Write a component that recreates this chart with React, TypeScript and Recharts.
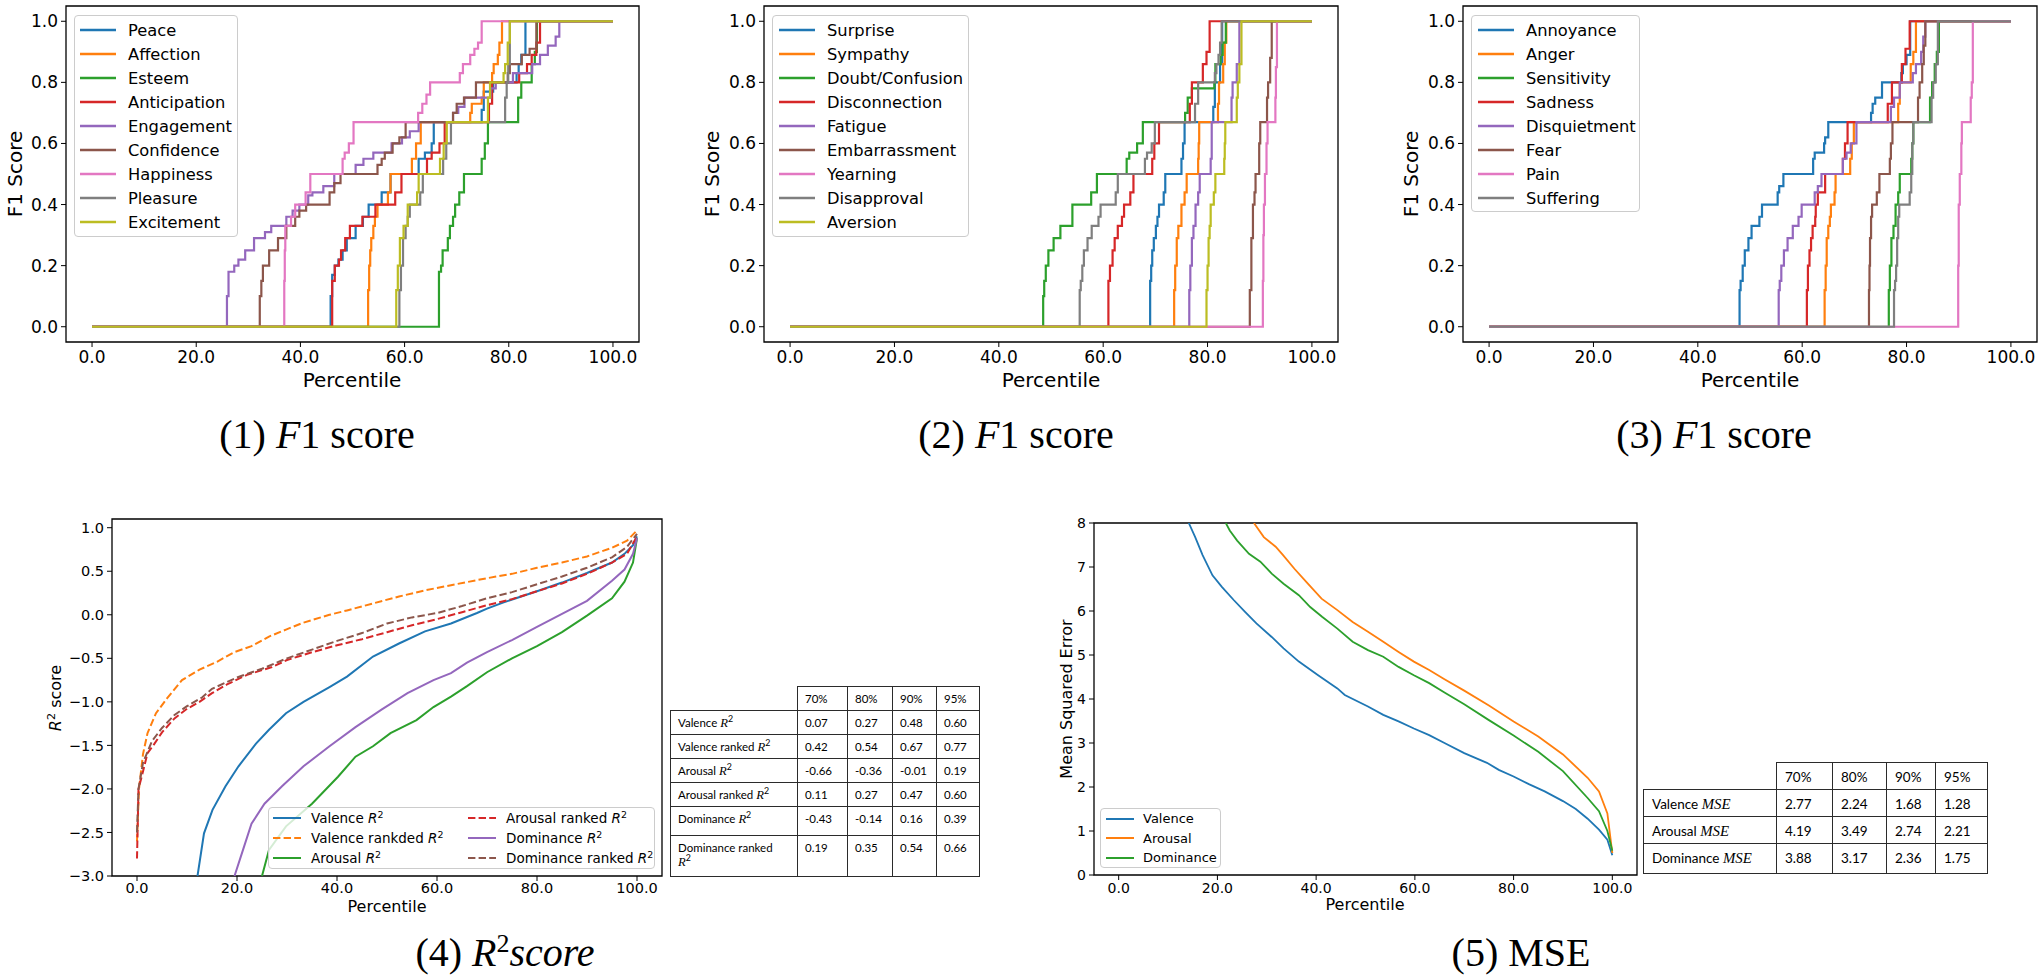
import React from 'react';
import { LineChart, Line, XAxis, YAxis, ReferenceArea } from 'recharts';

type Pt = [number, number];

// shared ticks
const PCT_TICKS = [0, 20, 40, 60, 80, 100];
const F1_TICKS = [0, 0.2, 0.4, 0.6, 0.8, 1.0];
const R2_TICKS = [-3, -2.5, -2, -1.5, -1, -0.5, 0, 0.5, 1];
const MSE_TICKS = [0, 1, 2, 3, 4, 5, 6, 7, 8];

// matplotlib tab10
const BLUE = '#1f77b4';
const ORANGE = '#ff7f0e';
const GREEN = '#2ca02c';
const RED = '#d62728';
const PURPLE = '#9467bd';
const BROWN = '#8c564b';
const PINK = '#e377c2';
const GRAY = '#7f7f7f';
const OLIVE = '#bcbd22';

// ---- panel 1 : [percentile, F1] (value changes at that percentile)
const peace: Pt[] = [[0, 0], [45.8, 0.1], [46.1, 0.17], [46.6, 0.2], [47.3, 0.22], [48.1, 0.25], [48.9, 0.29], [50.6, 0.33], [52, 0.36], [53.1, 0.4], [55.6, 0.44], [57.3, 0.5], [62.7, 0.55], [63.9, 0.57], [65.2, 0.6], [65.6, 0.67], [74.8, 0.71], [75.2, 0.77], [77, 0.8], [81.5, 0.83], [81.9, 0.86], [82.4, 0.89], [83.2, 1], [100, 1]];
const affection: Pt[] = [[0, 0], [53, 0.12], [53.2, 0.2], [53.4, 0.25], [53.6, 0.29], [54, 0.33], [54.3, 0.36], [54.8, 0.4], [56.8, 0.44], [57.3, 0.5], [61.4, 0.55], [62.2, 0.6], [63.1, 0.67], [72.6, 0.7], [72.9, 0.73], [74.8, 0.75], [75.2, 0.8], [76.8, 0.83], [77.1, 0.86], [77.9, 0.89], [78.2, 0.93], [78.7, 1], [100, 1]];
const esteem: Pt[] = [[0, 0], [66.6, 0.18], [67, 0.2], [67.3, 0.25], [68.3, 0.29], [68.7, 0.33], [69.3, 0.36], [69.7, 0.4], [70.5, 0.44], [71.4, 0.5], [74.8, 0.55], [75.4, 0.6], [76, 0.67], [81.8, 0.75], [82.4, 0.8], [84.4, 0.86], [85, 0.9], [85.4, 1], [100, 1]];
const anticipation: Pt[] = [[0, 0], [46.1, 0.15], [46.6, 0.2], [47.4, 0.22], [47.8, 0.25], [48.6, 0.29], [49.5, 0.33], [51.9, 0.36], [54.4, 0.4], [58.2, 0.44], [59.4, 0.5], [64.3, 0.55], [65.2, 0.57], [66.7, 0.6], [67.7, 0.67], [76.2, 0.73], [76.8, 0.8], [82, 0.83], [83.5, 0.86], [84.4, 0.89], [85.3, 0.93], [86, 1], [100, 1]];
const engagement: Pt[] = [[0, 0], [25.9, 0.1], [26.2, 0.18], [27.3, 0.2], [28.1, 0.22], [29.4, 0.25], [31.1, 0.29], [33.2, 0.31], [34.4, 0.33], [37.3, 0.36], [38.5, 0.38], [39.8, 0.4], [41.5, 0.43], [42.3, 0.44], [44.4, 0.46], [46.5, 0.5], [50.6, 0.53], [52.1, 0.55], [54, 0.57], [57.5, 0.6], [59.5, 0.62], [61, 0.64], [62.7, 0.67], [69.3, 0.7], [70.3, 0.72], [71.5, 0.75], [76.5, 0.78], [77.5, 0.8], [80.8, 0.83], [84.5, 0.86], [86, 0.89], [87.5, 0.92], [89, 0.95], [89.7, 1], [100, 1]];
const confidence: Pt[] = [[0, 0], [32.2, 0.1], [32.5, 0.15], [32.8, 0.2], [34, 0.25], [35.7, 0.29], [37.3, 0.33], [39, 0.36], [39.8, 0.38], [41.1, 0.4], [45.6, 0.44], [46.5, 0.47], [47.7, 0.5], [54.8, 0.53], [55.6, 0.55], [56.2, 0.57], [57.7, 0.6], [59, 0.62], [60.2, 0.67], [69.3, 0.7], [70, 0.73], [71.4, 0.75], [73.7, 0.8], [79.8, 0.83], [80.2, 0.86], [82.5, 0.89], [84, 0.91], [85.3, 1], [100, 1]];
const happiness: Pt[] = [[0, 0], [36.9, 0.15], [37, 0.25], [37.1, 0.33], [38.2, 0.36], [39, 0.4], [41, 0.44], [41.9, 0.5], [48.1, 0.55], [48.5, 0.57], [49.3, 0.6], [50.2, 0.67], [62.6, 0.7], [63.4, 0.73], [64.2, 0.76], [64.9, 0.8], [70.6, 0.83], [71.2, 0.86], [72.6, 0.89], [73.4, 0.91], [74.1, 0.93], [74.8, 1], [100, 1]];
const pleasure: Pt[] = [[0, 0], [59, 0.12], [59.3, 0.2], [59.7, 0.29], [60.2, 0.33], [60.6, 0.36], [61, 0.4], [63, 0.44], [63.5, 0.5], [67.4, 0.55], [68, 0.6], [68.9, 0.67], [79.3, 0.75], [79.6, 0.8], [79.9, 0.86], [80.2, 1], [100, 1]];
const excitement: Pt[] = [[0, 0], [58.4, 0.12], [58.7, 0.2], [59.1, 0.29], [59.8, 0.33], [60.6, 0.4], [62.4, 0.44], [62.7, 0.5], [66.8, 0.55], [67.5, 0.6], [68.1, 0.67], [76, 0.75], [76.4, 0.8], [79, 0.83], [79.3, 0.86], [79.8, 0.93], [80.2, 1], [100, 1]];

// ---- panel 2
const surprise: Pt[] = [[0, 0], [69, 0.15], [69.2, 0.2], [69.4, 0.25], [69.7, 0.29], [70.1, 0.33], [70.4, 0.36], [70.7, 0.4], [71.6, 0.44], [71.9, 0.5], [75, 0.55], [75.3, 0.6], [75.6, 0.67], [81.1, 0.72], [81.4, 0.8], [82.4, 0.86], [82.8, 1], [100, 1]];
const sympathy: Pt[] = [[0, 0], [73.6, 0.12], [73.8, 0.2], [74.1, 0.29], [74.4, 0.33], [75, 0.4], [75.6, 0.44], [76, 0.5], [78.2, 0.55], [78.3, 0.6], [78.4, 0.67], [82, 0.73], [82.2, 0.8], [83, 0.86], [83.3, 0.93], [83.6, 1], [100, 1]];
const doubt: Pt[] = [[0, 0], [48.5, 0.1], [48.7, 0.15], [49, 0.2], [49.5, 0.25], [50.5, 0.29], [51.8, 0.33], [54.1, 0.4], [57.7, 0.44], [58.8, 0.5], [64.5, 0.55], [65, 0.57], [66.5, 0.6], [67.6, 0.67], [75.7, 0.7], [76.2, 0.75], [77, 0.78], [81.3, 0.8], [81.5, 0.86], [82.5, 0.89], [82.9, 0.93], [83.5, 1], [100, 1]];
const disconnection: Pt[] = [[0, 0], [61, 0.15], [61.3, 0.2], [61.8, 0.25], [62.2, 0.29], [62.8, 0.33], [63.6, 0.36], [64, 0.4], [65.2, 0.44], [65.8, 0.5], [69.4, 0.55], [69.8, 0.6], [70.7, 0.67], [76.6, 0.73], [77, 0.8], [79.1, 0.86], [79.8, 0.9], [80.4, 1], [100, 1]];
const fatigue: Pt[] = [[0, 0], [76.5, 0.12], [76.7, 0.2], [77, 0.29], [77.3, 0.33], [77.7, 0.4], [78.2, 0.44], [78.5, 0.5], [80.6, 0.55], [80.8, 0.67], [84.6, 0.75], [84.8, 0.8], [85.6, 0.86], [86.1, 1], [100, 1]];
const embarrassment: Pt[] = [[0, 0], [88.1, 0.12], [88.4, 0.29], [88.7, 0.4], [89, 0.44], [89.2, 0.5], [89.9, 0.6], [90.1, 0.67], [91.4, 0.75], [91.6, 0.8], [92, 0.88], [92.3, 1], [100, 1]];
const yearning: Pt[] = [[0, 0], [90.6, 0.15], [90.7, 0.3], [90.8, 0.4], [91, 0.5], [91.3, 0.6], [91.5, 0.67], [93, 0.75], [93.1, 0.85], [93.3, 1], [100, 1]];
const disapproval: Pt[] = [[0, 0], [55.5, 0.12], [55.7, 0.15], [56, 0.2], [56.3, 0.25], [57, 0.29], [57.8, 0.33], [59.1, 0.36], [59.5, 0.4], [62.4, 0.44], [62.8, 0.5], [68, 0.55], [68.4, 0.57], [69.3, 0.6], [69.9, 0.67], [77.6, 0.73], [78.2, 0.8], [81.4, 0.83], [81.7, 0.86], [82.1, 0.89], [82.4, 0.93], [82.7, 1], [100, 1]];
const aversion: Pt[] = [[0, 0], [79.8, 0.12], [80, 0.2], [80.2, 0.29], [80.4, 0.33], [80.6, 0.4], [81.2, 0.44], [81.5, 0.5], [83.2, 0.55], [83.3, 0.6], [83.4, 0.67], [85.6, 0.75], [85.8, 0.8], [86.1, 0.86], [86.5, 1], [100, 1]];

// ---- panel 3
const annoyance: Pt[] = [[0, 0], [48, 0.12], [48.2, 0.15], [48.6, 0.2], [49, 0.25], [49.7, 0.29], [50.3, 0.33], [51.8, 0.36], [52.3, 0.4], [55.3, 0.44], [55.6, 0.46], [56.4, 0.5], [62.1, 0.55], [62.4, 0.57], [64.2, 0.6], [64.4, 0.62], [65, 0.67], [73.2, 0.7], [73.5, 0.73], [74, 0.75], [75.3, 0.8], [79, 0.83], [79.3, 0.86], [80, 0.89], [80.7, 1], [100, 1]];
const anger: Pt[] = [[0, 0], [64.3, 0.12], [64.5, 0.2], [64.7, 0.29], [65, 0.33], [65.3, 0.36], [65.5, 0.4], [66.2, 0.44], [66.4, 0.5], [69.2, 0.55], [69.5, 0.6], [69.9, 0.67], [78.4, 0.73], [78.7, 0.8], [80.8, 0.86], [81.3, 0.9], [81.8, 1], [100, 1]];
const sensitivity: Pt[] = [[0, 0], [76.6, 0.12], [76.8, 0.2], [77.1, 0.29], [77.5, 0.33], [77.9, 0.4], [78.4, 0.44], [78.7, 0.5], [80.9, 0.55], [81.1, 0.6], [81.3, 0.67], [84.5, 0.75], [84.9, 0.8], [85.4, 0.86], [85.8, 0.9], [86.2, 1], [100, 1]];
const sadness: Pt[] = [[0, 0], [60.9, 0.12], [61.1, 0.2], [61.4, 0.25], [61.7, 0.29], [62, 0.33], [62.5, 0.36], [62.6, 0.4], [63, 0.44], [64.4, 0.5], [67.8, 0.55], [68.2, 0.6], [68.7, 0.67], [76.4, 0.73], [77.2, 0.8], [79.1, 0.86], [79.8, 0.91], [80.6, 1], [100, 1]];
const disquietment: Pt[] = [[0, 0], [55.5, 0.12], [55.7, 0.15], [56, 0.2], [56.5, 0.25], [57.2, 0.29], [58.2, 0.33], [59.3, 0.36], [59.9, 0.4], [62.4, 0.44], [63, 0.46], [63.7, 0.5], [67.8, 0.55], [68.5, 0.57], [69.3, 0.6], [70.4, 0.67], [77, 0.72], [77.6, 0.75], [78.7, 0.8], [81.2, 0.83], [81.8, 0.86], [82.8, 0.9], [83.2, 0.95], [83.6, 1], [100, 1]];
const fear: Pt[] = [[0, 0], [72.8, 0.12], [72.9, 0.2], [73, 0.29], [73.2, 0.36], [73.4, 0.4], [74.3, 0.44], [74.8, 0.5], [76.8, 0.55], [77, 0.6], [77.3, 0.67], [82.2, 0.75], [82.5, 0.8], [83, 0.86], [83.3, 0.92], [83.6, 1], [100, 1]];
const pain: Pt[] = [[0, 0], [89.9, 0.2], [90, 0.4], [90.2, 0.5], [90.5, 0.6], [90.6, 0.67], [92.3, 0.75], [92.5, 0.8], [92.7, 1], [100, 1]];
const suffering: Pt[] = [[0, 0], [77.6, 0.12], [77.8, 0.15], [78, 0.2], [78.2, 0.29], [78.4, 0.36], [78.6, 0.4], [80.6, 0.44], [80.9, 0.5], [81.1, 0.6], [81.3, 0.67], [84.8, 0.75], [85.1, 0.8], [85.6, 0.86], [86, 1], [100, 1]];

// ---- panel 4 : [percentile, R2]
const valenceR2: Pt[] = [[12.1, -3], [13.4, -2.51], [15.1, -2.24], [17.7, -1.97], [20.3, -1.74], [23.8, -1.48], [26.4, -1.32], [29.8, -1.13], [33.3, -1.0], [38.5, -0.83], [42, -0.71], [47.2, -0.48], [52.4, -0.33], [57.6, -0.19], [62.8, -0.1], [68, 0.02], [70, 0.07], [73.2, 0.14], [80, 0.27], [85, 0.37], [90, 0.48], [95, 0.6], [97.5, 0.7], [99.2, 0.8], [100, 0.9]];
const valenceRankedR2: Pt[] = [[0, -2.6], [0.4, -2.0], [1.2, -1.6], [2.1, -1.36], [3.8, -1.13], [6, -0.96], [9, -0.75], [12.5, -0.63], [16, -0.54], [19.4, -0.43], [22.9, -0.36], [26.4, -0.25], [29.8, -0.17], [33.3, -0.09], [38.5, 0.0], [42, 0.05], [47.2, 0.13], [52.4, 0.21], [57.6, 0.28], [62.8, 0.34], [70, 0.42], [75, 0.47], [80, 0.54], [85, 0.6], [90, 0.67], [95, 0.77], [98, 0.85], [100, 0.97]];
const arousalR2: Pt[] = [[25, -3], [26.4, -2.7], [29.8, -2.43], [35, -2.17], [40.2, -1.86], [43.7, -1.63], [47.2, -1.51], [50.7, -1.36], [55.9, -1.21], [59.3, -1.06], [62.8, -0.94], [66, -0.82], [70, -0.66], [75, -0.5], [80, -0.36], [85, -0.2], [90, -0.01], [95, 0.19], [97.5, 0.38], [99.2, 0.6], [100, 0.88]];
const arousalRankedR2: Pt[] = [[0, -2.8], [0.3, -2.0], [1.2, -1.8], [2.1, -1.59], [3.5, -1.48], [5, -1.35], [7.5, -1.19], [10, -1.08], [12.5, -1.0], [15, -0.9], [18, -0.8], [22, -0.69], [27, -0.6], [30, -0.52], [35, -0.43], [40, -0.35], [45, -0.28], [50, -0.2], [55, -0.12], [60, -0.05], [65, 0.03], [70, 0.11], [75, 0.18], [80, 0.27], [85, 0.36], [90, 0.47], [95, 0.6], [98, 0.7], [100, 0.9]];
const dominanceR2: Pt[] = [[19.5, -3], [21.2, -2.7], [22.9, -2.4], [25.5, -2.17], [29, -1.97], [33.3, -1.74], [38.5, -1.51], [43.7, -1.29], [48.9, -1.09], [54.1, -0.9], [59.3, -0.75], [62.8, -0.67], [66, -0.55], [70, -0.43], [75, -0.29], [80, -0.14], [85, 0.01], [90, 0.16], [95, 0.39], [97.5, 0.52], [99.2, 0.7], [100, 0.88]];
const dominanceRankedR2: Pt[] = [[0, -2.5], [0.3, -2.0], [1.2, -1.7], [3, -1.45], [5, -1.3], [7.5, -1.15], [10, -1.05], [13, -0.95], [15, -0.85], [20, -0.72], [25, -0.62], [30, -0.5], [35, -0.4], [40, -0.3], [45, -0.21], [50, -0.1], [55, -0.03], [60, 0.02], [65, 0.1], [70, 0.19], [75, 0.26], [80, 0.35], [85, 0.44], [90, 0.54], [95, 0.66], [98, 0.78], [100, 0.93]];

// ---- panel 5 : [percentile, MSE]
const valenceMse: Pt[] = [[14.2, 8], [15.5, 7.68], [17, 7.27], [19, 6.81], [20.9, 6.55], [23.3, 6.25], [25.6, 5.98], [27.9, 5.72], [31, 5.41], [33.4, 5.15], [36.5, 4.85], [40.4, 4.54], [44.3, 4.24], [45.8, 4.09], [50.5, 3.83], [53.6, 3.64], [56.7, 3.49], [59.8, 3.33], [62.9, 3.18], [66, 3.0], [70, 2.77], [74.6, 2.55], [77, 2.39], [80, 2.24], [83.2, 2.06], [86.3, 1.9], [90, 1.68], [92.6, 1.5], [95, 1.28], [97.3, 1.03], [99, 0.8], [100, 0.45]];
const arousalMse: Pt[] = [[27.4, 8], [29.4, 7.68], [31.8, 7.46], [33.3, 7.27], [35.6, 6.96], [38, 6.66], [41.1, 6.28], [44.3, 6.02], [47.4, 5.75], [50.5, 5.53], [53.6, 5.3], [56.7, 5.07], [59.8, 4.85], [62.9, 4.66], [66, 4.45], [70, 4.19], [75, 3.85], [80, 3.49], [85, 3.15], [90, 2.74], [95, 2.21], [97.3, 1.9], [99, 1.4], [100, 0.5]];
const dominanceMse: Pt[] = [[21.7, 8], [22.5, 7.83], [24, 7.6], [26.4, 7.3], [28.7, 7.12], [31, 6.85], [33.4, 6.62], [36.5, 6.36], [38.8, 6.09], [41.2, 5.87], [44.3, 5.6], [47.4, 5.3], [50.5, 5.11], [53.6, 4.96], [56.7, 4.73], [59.8, 4.54], [62.9, 4.36], [66, 4.15], [70, 3.88], [75, 3.52], [80, 3.17], [85, 2.8], [90, 2.36], [95, 1.75], [97.3, 1.45], [99, 1.0], [100, 0.55]];

// ---- tables
const TABLE_COLS = ['70%', '80%', '90%', '95%'];
const R2_ROW_NAMES = ['Valence', 'Valence ranked', 'Arousal', 'Arousal ranked', 'Dominance', 'Dominance ranked'];
const R2_ROW_VALUES = [
  ['0.07', '0.27', '0.48', '0.60'],
  ['0.42', '0.54', '0.67', '0.77'],
  ['-0.66', '-0.36', '-0.01', '0.19'],
  ['0.11', '0.27', '0.47', '0.60'],
  ['-0.43', '-0.14', '0.16', '0.39'],
  ['0.19', '0.35', '0.54', '0.66'],
];
const MSE_ROW_NAMES = ['Valence', 'Arousal', 'Dominance'];
const MSE_ROW_VALUES = [
  ['2.77', '2.24', '1.68', '1.28'],
  ['4.19', '3.49', '2.74', '2.21'],
  ['3.88', '3.17', '2.36', '1.75'],
];

type Series = { name: string; color: string; points: Pt[]; dashed?: boolean };

const PANEL1: Series[] = [
  { name: 'Peace', color: BLUE, points: peace },
  { name: 'Affection', color: ORANGE, points: affection },
  { name: 'Esteem', color: GREEN, points: esteem },
  { name: 'Anticipation', color: RED, points: anticipation },
  { name: 'Engagement', color: PURPLE, points: engagement },
  { name: 'Confidence', color: BROWN, points: confidence },
  { name: 'Happiness', color: PINK, points: happiness },
  { name: 'Pleasure', color: GRAY, points: pleasure },
  { name: 'Excitement', color: OLIVE, points: excitement },
];
const PANEL2: Series[] = [
  { name: 'Surprise', color: BLUE, points: surprise },
  { name: 'Sympathy', color: ORANGE, points: sympathy },
  { name: 'Doubt/Confusion', color: GREEN, points: doubt },
  { name: 'Disconnection', color: RED, points: disconnection },
  { name: 'Fatigue', color: PURPLE, points: fatigue },
  { name: 'Embarrassment', color: BROWN, points: embarrassment },
  { name: 'Yearning', color: PINK, points: yearning },
  { name: 'Disapproval', color: GRAY, points: disapproval },
  { name: 'Aversion', color: OLIVE, points: aversion },
];
const PANEL3: Series[] = [
  { name: 'Annoyance', color: BLUE, points: annoyance },
  { name: 'Anger', color: ORANGE, points: anger },
  { name: 'Sensitivity', color: GREEN, points: sensitivity },
  { name: 'Sadness', color: RED, points: sadness },
  { name: 'Disquietment', color: PURPLE, points: disquietment },
  { name: 'Fear', color: BROWN, points: fear },
  { name: 'Pain', color: PINK, points: pain },
  { name: 'Suffering', color: GRAY, points: suffering },
];
const PANEL4: Series[] = [
  { name: 'Valence', color: BLUE, points: valenceR2 },
  { name: 'Valence rankded', color: ORANGE, points: valenceRankedR2, dashed: true },
  { name: 'Arousal', color: GREEN, points: arousalR2 },
  { name: 'Arousal ranked', color: RED, points: arousalRankedR2, dashed: true },
  { name: 'Dominance', color: PURPLE, points: dominanceR2 },
  { name: 'Dominance ranked', color: BROWN, points: dominanceRankedR2, dashed: true },
];
const PANEL5: Series[] = [
  { name: 'Valence', color: BLUE, points: valenceMse },
  { name: 'Arousal', color: ORANGE, points: arousalMse },
  { name: 'Dominance', color: GREEN, points: dominanceMse },
];

const SANS = "'DejaVu Sans', sans-serif";
const SERIF = "'Liberation Serif', 'DejaVu Serif', serif";
const TABLE_FONT = "Lato, 'Open Sans', sans-serif";
const DASH = '7.4 3.2';

const pctFmt = (v: number) => v.toFixed(1);
const f1Fmt = (v: number) => v.toFixed(1);
const r2Fmt = (v: number) => (v < 0 ? '\u2212' + Math.abs(v).toFixed(1) : v.toFixed(1));
const mseFmt = (v: number) => String(v);

const R2 = ({ serif }: { serif?: boolean }) => (
  <span style={{ whiteSpace: 'nowrap' }}>
    <span style={{ fontStyle: 'italic', fontFamily: serif ? SERIF : undefined }}>R</span>
    <span style={{ fontSize: '0.7em', verticalAlign: 'super', lineHeight: 0 }}>2</span>
  </span>
);

function Panel(props: {
  left: number; top: number; width: number; height: number;
  margin: { top: number; right: number; bottom: number; left: number };
  yWidth: number; xHeight: number; xTickMargin: number; fontSize: number;
  yDomain: [number, number]; yTicks: number[]; yFmt: (v: number) => string;
  series: Series[]; lineWidth: number; step?: boolean;
}) {
  const tick = { fill: '#000', fontSize: props.fontSize, fontFamily: SANS };
  return (
    <div style={{ position: 'absolute', left: props.left, top: props.top }}>
      <LineChart width={props.width} height={props.height} margin={props.margin}>
        <XAxis type="number" dataKey="x" domain={[-5, 105]} ticks={PCT_TICKS} tickFormatter={pctFmt}
          allowDataOverflow interval={0} axisLine={false} tickLine={{ stroke: '#000' }} tickSize={5}
          tickMargin={props.xTickMargin} height={props.xHeight} tick={tick} />
        <YAxis type="number" dataKey="y" domain={props.yDomain} ticks={props.yTicks} tickFormatter={props.yFmt}
          allowDataOverflow interval={0} axisLine={false} tickLine={{ stroke: '#000' }} tickSize={5}
          tickMargin={3} width={props.yWidth} tick={tick} />
        {props.series.map((s) => (
          <Line key={s.name} data={s.points.map(([x, y]) => ({ x, y }))} dataKey="y" name={s.name}
            type={props.step ? 'stepAfter' : 'linear'} stroke={s.color} strokeWidth={props.lineWidth}
            strokeDasharray={s.dashed ? DASH : undefined} dot={false} activeDot={false}
            isAnimationActive={false} />
        ))}
        <ReferenceArea x1={-5} x2={105} y1={props.yDomain[0]} y2={props.yDomain[1]} fill="none"
          stroke="#000" strokeWidth={1.3} ifOverflow="visible" />
      </LineChart>
    </div>
  );
}

function Legend(props: {
  left: number; top: number; width: number; height: number; padTop: number;
  rowH: number; fontSize: number; handleLeft: number; handleW: number; gap: number; lw: number;
  items: { label: React.ReactNode; color: string; dashed?: boolean }[]; rows?: number; colW?: number;
}) {
  const rows = props.rows ?? props.items.length;
  return (
    <div style={{
      position: 'absolute', left: props.left, top: props.top, width: props.width, height: props.height,
      boxSizing: 'border-box', border: '1px solid #cccccc', borderRadius: 4, background: 'rgba(255,255,255,0.8)',
      paddingTop: props.padTop, fontFamily: SANS, fontSize: props.fontSize, color: '#000',
      display: 'grid', gridTemplateRows: `repeat(${rows}, ${props.rowH}px)`, gridAutoFlow: 'column',
      gridAutoColumns: props.colW ? `${props.colW}px` : '1fr',
    }}>
      {props.items.map((it, i) => (
        <div key={i} style={{ display: 'flex', alignItems: 'center', height: props.rowH, whiteSpace: 'nowrap' }}>
          <svg width={props.handleW} height={8} style={{ marginLeft: props.handleLeft, flex: 'none' }}>
            <line x1={0} y1={4} x2={props.handleW} y2={4} stroke={it.color} strokeWidth={props.lw}
              strokeDasharray={it.dashed ? DASH : undefined} />
          </svg>
          <span style={{ marginLeft: props.gap }}>{it.label}</span>
        </div>
      ))}
    </div>
  );
}

const Txt = ({ x, y, size, rotate, family, children }: {
  x: number; y: number; size: number; rotate?: boolean; family?: string; children: React.ReactNode;
}) => (
  <div style={{
    position: 'absolute', left: x, top: y, fontSize: size, fontFamily: family ?? SANS, lineHeight: 1,
    whiteSpace: 'nowrap', color: '#000',
    transform: `translate(-50%, -50%)${rotate ? ' rotate(-90deg)' : ''}`,
  }}>{children}</div>
);

function StatTable(props: {
  left: number; top: number; colW: number[]; rowH: number[]; fontSize: number; lineH: number;
  pad: string; names: string[]; values: string[][]; unit: 'r2' | 'mse';
}) {
  const cell: React.CSSProperties = {
    border: '1.3px solid #2b2b2b', padding: props.pad, verticalAlign: 'top', textAlign: 'left',
    lineHeight: `${props.lineH}px`, fontWeight: 'normal',
  };
  const width = props.colW.reduce((a, b) => a + b, 0);
  const label = (n: string) =>
    props.unit === 'r2' ? (
      <>
        {n}
        {n.length > 15 ? <br /> : ' '}
        <span style={{ fontSize: '1.1em' }}><R2 serif /></span>
      </>
    ) : (
      <>
        {n} <span style={{ fontStyle: 'italic', fontFamily: SERIF, fontSize: '1.1em' }}>MSE</span>
      </>
    );
  return (
    <table style={{
      position: 'absolute', left: props.left, top: props.top, width, tableLayout: 'fixed',
      borderCollapse: 'collapse', fontFamily: TABLE_FONT, fontSize: props.fontSize, color: '#000',
    }}>
      <colgroup>{props.colW.map((w, i) => <col key={i} style={{ width: w }} />)}</colgroup>
      <tbody>
        <tr style={{ height: props.rowH[0] }}>
          <td style={{ ...cell, border: 'none' }} />
          {TABLE_COLS.map((c) => <td key={c} style={cell}>{c}</td>)}
        </tr>
        {props.names.map((n, r) => (
          <tr key={n} style={{ height: props.rowH[r + 1] }}>
            <td style={cell}>{label(n)}</td>
            {props.values[r].map((v, c) => <td key={c} style={cell}>{v}</td>)}
          </tr>
        ))}
      </tbody>
    </table>
  );
}

const f1Legend = (s: Series[]) => s.map((x) => ({ label: x.name, color: x.color }));

export default function App() {
  return (
    <div style={{ position: 'absolute', left: 0, top: 0, width: 2044, height: 980, background: '#fff', overflow: 'hidden' }}>
      {/* top row: F1 percentiles */}
      <Panel left={0} top={0} width={660} height={380} margin={{ top: 6, right: 21, bottom: 0, left: 0 }}
        yWidth={66} xHeight={38} xTickMargin={4} fontSize={17} yDomain={[-0.05, 1.05]} yTicks={F1_TICKS}
        yFmt={f1Fmt} series={PANEL1} lineWidth={2.2} step />
      <Panel left={700} top={0} width={660} height={380} margin={{ top: 6, right: 22, bottom: 0, left: 0 }}
        yWidth={64} xHeight={38} xTickMargin={4} fontSize={17} yDomain={[-0.05, 1.05]} yTicks={F1_TICKS}
        yFmt={f1Fmt} series={PANEL2} lineWidth={2.2} step />
      <Panel left={1400} top={0} width={644} height={380} margin={{ top: 6, right: 7, bottom: 0, left: 0 }}
        yWidth={63} xHeight={38} xTickMargin={4} fontSize={17} yDomain={[-0.05, 1.05]} yTicks={F1_TICKS}
        yFmt={f1Fmt} series={PANEL3} lineWidth={2.2} step />

      <Legend left={74} top={15} width={164} height={222} padTop={2} rowH={24} fontSize={16.3}
        handleLeft={5} handleW={36} gap={12} lw={2.6} items={f1Legend(PANEL1)} />
      <Legend left={772} top={15} width={197} height={222} padTop={2} rowH={24} fontSize={16.3}
        handleLeft={6} handleW={36} gap={12} lw={2.6} items={f1Legend(PANEL2)} />
      <Legend left={1471} top={15} width={169} height={197} padTop={2} rowH={24} fontSize={16.3}
        handleLeft={6} handleW={36} gap={12} lw={2.6} items={f1Legend(PANEL3)} />

      <Txt x={15} y={174} size={20} rotate>F1 Score</Txt>
      <Txt x={712} y={174} size={20} rotate>F1 Score</Txt>
      <Txt x={1411} y={174} size={20} rotate>F1 Score</Txt>
      <Txt x={352} y={380} size={20}>Percentile</Txt>
      <Txt x={1051} y={380} size={20}>Percentile</Txt>
      <Txt x={1750} y={380} size={20}>Percentile</Txt>
      <Txt x={317} y={435} size={40} family={SERIF}>(1) <i>F</i>1 score</Txt>
      <Txt x={1016} y={435} size={40} family={SERIF}>(2) <i>F</i>1 score</Txt>
      <Txt x={1714} y={435} size={40} family={SERIF}>(3) <i>F</i>1 score</Txt>

      {/* bottom left: R2 */}
      <Panel left={40} top={510} width={640} height={400} margin={{ top: 9, right: 18, bottom: 0, left: 0 }}
        yWidth={72} xHeight={34} xTickMargin={2} fontSize={14.5} yDomain={[-3, 1.1]} yTicks={R2_TICKS}
        yFmt={r2Fmt} series={PANEL4} lineWidth={2} />
      <Legend left={268} top={807} width={387} height={62} padTop={0} rowH={20} fontSize={13.5}
        handleLeft={4} handleW={28} gap={10} lw={2} rows={3} colW={195}
        items={PANEL4.map((s) => ({ label: <>{s.name} <R2 /></>, color: s.color, dashed: s.dashed }))} />
      <Txt x={56} y={698} size={16} rotate><R2 /> score</Txt>
      <Txt x={387} y={907} size={16}>Percentile</Txt>
      <Txt x={505} y={953} size={40} family={SERIF}>(4) <i>R</i><sup style={{ fontSize: '0.65em', lineHeight: 0 }}>2</sup><i>score</i></Txt>
      <StatTable left={670} top={686} colW={[127, 50, 45, 44, 43]} rowH={[24, 24, 24, 24, 24, 29, 41]}
        fontSize={11.5} lineH={14} pad="5px 4px 0 7px" names={R2_ROW_NAMES} values={R2_ROW_VALUES} unit="r2" />

      {/* bottom right: MSE */}
      <Panel left={1040} top={510} width={620} height={400} margin={{ top: 13, right: 23, bottom: 0, left: 0 }}
        yWidth={54} xHeight={35} xTickMargin={3} fontSize={14} yDomain={[0, 8]} yTicks={MSE_TICKS}
        yFmt={mseFmt} series={PANEL5} lineWidth={1.8} />
      <Legend left={1100} top={808} width={121} height={60} padTop={0} rowH={19.5} fontSize={13}
        handleLeft={5} handleW={28} gap={9} lw={2} items={f1Legend(PANEL5)} />
      <Txt x={1067} y={699} size={16} rotate>Mean Squared Error</Txt>
      <Txt x={1365} y={905} size={16}>Percentile</Txt>
      <Txt x={1521} y={953} size={40} family={SERIF}>(5) MSE</Txt>
      <StatTable left={1643} top={762} colW={[133, 56, 54, 49, 52]} rowH={[27, 27, 27, 30]}
        fontSize={13.5} lineH={16} pad="6px 4px 0 8px" names={MSE_ROW_NAMES} values={MSE_ROW_VALUES} unit="mse" />
    </div>
  );
}
